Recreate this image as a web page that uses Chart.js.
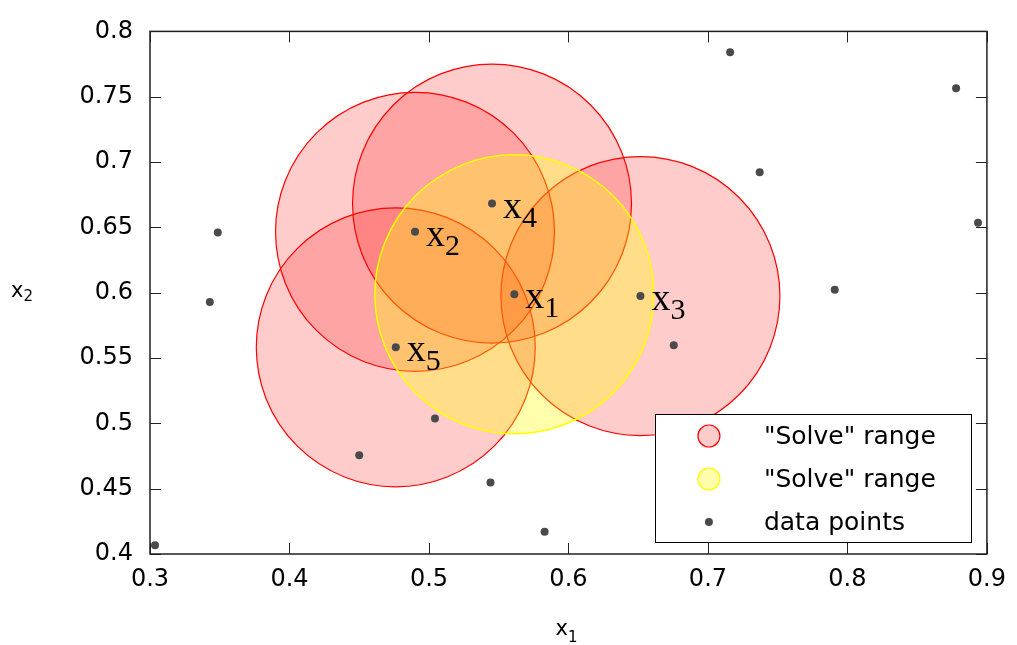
<!DOCTYPE html>
<html>
<head>
<meta charset="utf-8">
<script src="https://cdn.jsdelivr.net/npm/chart.js@4.4.0/dist/chart.umd.min.js"></script>
<style>
  html, body { margin: 0; padding: 0; background: #fff; }
</style>
</head>
<body>
<canvas id="chart" width="1017" height="645"></canvas>
<script>
const xTicks = [0.3, 0.4, 0.5, 0.6, 0.7, 0.8, 0.9];
const yTicks = [0.4, 0.45, 0.5, 0.55, 0.6, 0.65, 0.7, 0.75, 0.8];

// all data points
const pointX = [0.3036, 0.3486, 0.3429, 0.4500, 0.4762, 0.4900, 0.5043, 0.5452, 0.5441,
                0.5612, 0.5829, 0.6516, 0.6755, 0.7159, 0.7371, 0.7909, 0.8779, 0.8936];
const pointY = [0.4067, 0.6461, 0.5929, 0.4755, 0.5582, 0.6466, 0.5038, 0.6682, 0.4547,
                0.5988, 0.4171, 0.5974, 0.5597, 0.7840, 0.6921, 0.6023, 0.7565, 0.6535];

// "Solve" ranges: red ones around x5, x2, x4, x3 and the yellow one around x1
const redX = [0.4762, 0.4900, 0.5452, 0.6516];
const redY = [0.5582, 0.6466, 0.6682, 0.5974];
const yellowX = [0.5612];
const yellowY = [0.5988];
const rangeR = 0.1; // radius, in x units

// x1..x5 tags
const tagX = [0.5612, 0.4900, 0.6516, 0.5452, 0.4762];
const tagY = [0.5988, 0.6466, 0.5974, 0.6682, 0.5582];
const tagSub = ['1', '2', '3', '4', '5'];

const legendLabels = ['"Solve" range', '"Solve" range', 'data points'];

const sans = "'DejaVu Sans', 'Liberation Sans', sans-serif";
const serif = "'Liberation Serif', 'Times New Roman', serif";

function toPts(xs, ys) {
    return xs.map((x, i) => ({ x: x, y: ys[i] }));
}

function rangePx(ctx) {
    const s = ctx.chart.scales.x;
    return (s.getPixelForValue(s.max) - s.getPixelForValue(s.min)) / (s.max - s.min) * rangeR;
}

function subText(c, main, sub, x, y, size, subSize, face, drop) {
    c.font = size + 'px ' + face;
    c.fillText(main, x, y);
    const w = c.measureText(main).width;
    c.font = subSize + 'px ' + face;
    c.fillText(sub, x + w, y + drop);
}

const framePlugin = {
    id: 'frame',
    afterDatasetsDraw(chart) {
        const c = chart.ctx;
        const a = chart.chartArea;
        const xs = chart.scales.x, ys = chart.scales.y;
        c.save();

        // tags next to the points
        c.fillStyle = '#000';
        c.textBaseline = 'alphabetic';
        c.textAlign = 'left';
        tagX.forEach((v, i) => {
            const px = xs.getPixelForValue(v), py = ys.getPixelForValue(tagY[i]);
            subText(c, 'x', tagSub[i], px + 11, py + 14, 38, 30, serif, 9);
        });

        // frame and inward ticks
        c.strokeStyle = '#202020';
        c.lineWidth = 1.5;
        c.strokeRect(a.left, a.top, a.right - a.left, a.bottom - a.top);
        c.lineWidth = 1;
        c.beginPath();
        xTicks.forEach(v => {
            const p = Math.round(xs.getPixelForValue(v)) + 0.5;
            c.moveTo(p, a.bottom); c.lineTo(p, a.bottom - 11);
            c.moveTo(p, a.top); c.lineTo(p, a.top + 11);
        });
        yTicks.forEach(v => {
            const p = Math.round(ys.getPixelForValue(v)) + 0.5;
            c.moveTo(a.left, p); c.lineTo(a.left + 11, p);
            c.moveTo(a.right, p); c.lineTo(a.right - 11, p);
        });
        c.stroke();

        // legend box
        const bw = 316, bh = 128;
        const bx = a.right - 16 - bw, by = a.bottom - 12 - bh;
        c.fillStyle = '#fff';
        c.fillRect(bx, by, bw, bh);
        c.strokeStyle = '#000';
        c.lineWidth = 1;
        c.strokeRect(Math.round(bx) + 0.5, Math.round(by) + 0.5, bw, bh);
        c.font = '25px ' + sans;
        c.textBaseline = 'middle';
        chart.data.datasets.forEach((ds, i) => {
            const cy = by + 22 + i * 43;
            const cx = bx + 54;
            c.beginPath();
            c.arc(cx, cy, i < 2 ? 11 : 4, 0, Math.PI * 2);
            c.fillStyle = ds.pointBackgroundColor;
            c.fill();
            if (ds.pointBorderWidth > 0) {
                c.strokeStyle = ds.pointBorderColor;
                c.lineWidth = 1.2;
                c.stroke();
            }
            c.fillStyle = '#000';
            c.fillText(legendLabels[i], bx + 109, cy + 1);
        });

        // axis titles
        c.textBaseline = 'alphabetic';
        c.fillStyle = '#000';
        subText(c, 'x', '1', (a.left + a.right) / 2 - 13, 635, 21, 15, sans, 7);
        subText(c, 'x', '2', 11, 297, 21, 15, sans, 4);
        c.restore();
    }
};

const ctx = document.getElementById('chart').getContext('2d');
new Chart(ctx, {
    type: 'scatter',
    data: {
        datasets: [{
            label: legendLabels[0],
            data: toPts(redX, redY),
            order: 3,
            pointRadius: rangePx,
            pointHoverRadius: rangePx,
            pointBackgroundColor: 'rgba(255, 0, 0, 0.2)',
            pointBorderColor: '#ff0000',
            pointBorderWidth: 1.2,
            pointHoverBorderWidth: 1.2
        }, {
            label: legendLabels[1],
            data: toPts(yellowX, yellowY),
            order: 2,
            pointRadius: rangePx,
            pointHoverRadius: rangePx,
            pointBackgroundColor: 'rgba(255, 255, 0, 0.33)',
            pointBorderColor: '#ffff00',
            pointBorderWidth: 1.5,
            pointHoverBorderWidth: 1.5
        }, {
            label: legendLabels[2],
            data: toPts(pointX, pointY),
            order: 1,
            pointRadius: 4,
            pointHoverRadius: 4,
            pointBackgroundColor: '#4a4a4a',
            pointBorderColor: '#4a4a4a',
            pointBorderWidth: 0
        }]
    },
    options: {
        responsive: false,
        animation: false,
        events: [],
        layout: { padding: { left: 0, top: 15.5, right: 27, bottom: 0 } },
        plugins: {
            legend: { display: false },
            tooltip: { enabled: false }
        },
        scales: {
            x: {
                type: 'linear',
                min: 0.3,
                max: 0.9,
                afterBuildTicks: s => { s.ticks = xTicks.map(v => ({ value: v })); },
                afterFit: s => { s.height = 91; },
                grid: { display: false, drawTicks: false },
                border: { display: false },
                ticks: {
                    color: '#000',
                    font: { family: sans, size: 24 },
                    padding: 11,
                    maxRotation: 0,
                    callback: v => String(+v.toFixed(2))
                }
            },
            y: {
                type: 'linear',
                min: 0.4,
                max: 0.8,
                afterBuildTicks: s => { s.ticks = yTicks.map(v => ({ value: v })); },
                afterFit: s => { s.width = 150; },
                grid: { display: false, drawTicks: false },
                border: { display: false },
                ticks: {
                    color: '#000',
                    font: { family: sans, size: 24 },
                    padding: 17,
                    callback: v => String(+v.toFixed(2))
                }
            }
        }
    },
    plugins: [framePlugin]
});
</script>
</body>
</html>
